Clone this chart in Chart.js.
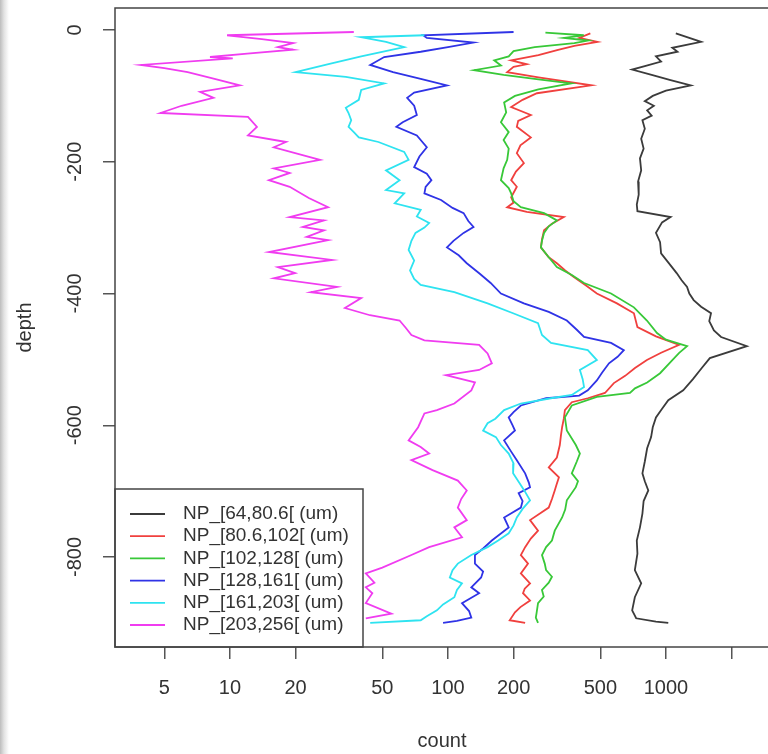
<!DOCTYPE html>
<html>
<head>
<meta charset="utf-8">
<script src="https://cdn.jsdelivr.net/npm/chart.js@4.4.1/dist/chart.umd.min.js"></script>
<style>
html, body { margin: 0; padding: 0; overflow: hidden; }
body { width: 768px; height: 754px; background: linear-gradient(to right, #bdbdbd 0px, #e2e2e2 4px, #ffffff 9px); }
#wrap { position: relative; width: 780px; height: 754px; }
</style>
</head>
<body>
<div id="wrap"><canvas id="grafico" width="780" height="754"></canvas></div>
<script>
// nomes e cores das classes de tamanho
const nomes = ['NP_[64,80.6[ (um)', 'NP_[80.6,102[ (um)', 'NP_[102,128[ (um)', 'NP_[128,161[ (um)', 'NP_[161,203[ (um)', 'NP_[203,256[ (um)'];
const cores = ['#3b3b3b', '#f0403e', '#38c838', '#2f33e6', '#2ee3f0', '#f03cf0'];

// eixos
const xTicks = [5, 10, 20, 50, 100, 200, 500, 1000, 2000];
const xTickLabels = ['5', '10', '20', '50', '100', '200', '500', '1000', ''];
const yTicks = [0, -200, -400, -600, -800];

// NP_[64,80.6[
const depth1 = [-5, -18, -27, -33, -40, -48, -55, -60, -68, -76, -84, -92, -100, -108, -115, -122, -130, -137, -150, -165, -180, -195, -213, -230, -250, -265, -275, -284, -292, -308, -322, -339, -352, -369, -380, -390, -400, -410, -420, -430, -442, -456, -466, -480, -498, -513, -530, -547, -562, -575, -588, -603, -618, -635, -655, -673, -685, -699, -715, -734, -755, -775, -795, -820, -840, -861, -881, -893, -898, -900];
const count1 = [1110, 1450, 1070, 1130, 900, 950, 800, 700, 860, 1050, 1300, 1000, 870, 800, 880, 820, 860, 780, 800, 770, 790, 760, 770, 745, 750, 735, 740, 1050, 960, 900, 940, 950, 1020, 1120, 1180, 1250, 1280, 1340, 1450, 1610, 1580, 1660, 1790, 2350, 1590, 1460, 1330, 1200, 1025, 960, 900, 870, 855, 820, 800, 780, 800, 830, 790, 780, 760, 735, 740, 720, 770, 720, 700, 730, 900, 1025];

// NP_[80.6,102[
const depth2 = [-5, -12, -18, -24, -30, -38, -46, -52, -56, -64, -72, -84, -96, -106, -117, -129, -138, -147, -163, -175, -187, -202, -215, -228, -238, -254, -262, -269, -276, -284, -294, -304, -318, -330, -345, -354, -365, -375, -388, -400, -415, -430, -451, -465, -478, -490, -501, -513, -525, -536, -551, -559, -565, -577, -590, -603, -615, -630, -649, -664, -679, -690, -699, -712, -725, -744, -760, -772, -785, -797, -810, -825, -840, -848, -855, -866, -876, -884, -896, -900];
const count2 = [450, 400, 485, 380, 320, 260, 195, 230, 200, 187, 260, 455, 256, 220, 195, 240, 210, 207, 240, 215, 207, 223, 205, 195, 207, 195, 200, 187, 230, 340, 300, 276, 270, 267, 290, 316, 345, 378, 430, 482, 596, 713, 740, 900, 1150, 950, 818, 721, 650, 577, 525, 438, 370, 344, 340, 334, 330, 326, 316, 290, 323, 315, 309, 300, 290, 238, 259, 240, 226, 216, 233, 216, 238, 225, 221, 238, 215, 203, 192, 226];

// NP_[102,128[
const depth3 = [-4, -8, -12, -16, -20, -26, -32, -40, -46, -54, -61, -68, -75, -81, -90, -100, -110, -125, -140, -155, -167, -180, -197, -210, -228, -240, -248, -260, -269, -278, -289, -298, -308, -320, -330, -345, -360, -372, -384, -400, -421, -441, -460, -470, -480, -490, -501, -521, -535, -544, -551, -557, -570, -588, -608, -620, -630, -643, -655, -673, -685, -694, -714, -728, -740, -760, -775, -785, -797, -810, -820, -830, -839, -850, -860, -870, -885, -892, -900];
const count3 = [280, 420, 340, 440, 380, 250, 200, 190, 163, 175, 132, 180, 260, 367, 260, 203, 181, 185, 175, 190, 180, 190, 187, 180, 175, 190, 195, 200, 216, 276, 316, 290, 276, 270, 267, 290, 316, 370, 421, 560, 713, 818, 910, 1000, 1250, 1150, 1070, 940, 820, 721, 684, 482, 370, 344, 351, 370, 386, 403, 390, 370, 395, 386, 351, 345, 334, 309, 300, 282, 270, 278, 282, 300, 290, 270, 275, 259, 255, 253, 259];

// NP_[128,161[
const depth4 = [-3, -8, -12, -19, -26, -33, -41, -53, -64, -74, -84, -95, -103, -115, -129, -140, -147, -160, -178, -192, -208, -218, -228, -238, -248, -258, -270, -278, -290, -299, -308, -320, -330, -342, -354, -370, -384, -400, -415, -428, -441, -455, -466, -475, -486, -496, -506, -520, -532, -547, -555, -559, -570, -580, -588, -600, -608, -623, -640, -653, -673, -687, -694, -703, -715, -725, -740, -755, -775, -787, -797, -810, -822, -831, -846, -855, -870, -882, -892, -897, -900];
const count4 = [200, 77, 80, 131, 100, 75, 51, 44, 56, 75, 99, 70, 65, 70, 72, 62, 58, 72, 80, 74, 70, 80, 84, 79, 78, 93, 105, 118, 124, 131, 118, 106, 99, 112, 122, 140, 157, 175, 223, 290, 351, 390, 421, 560, 641, 600, 548, 510, 482, 438, 400, 282, 216, 200, 190, 198, 203, 181, 195, 207, 226, 235, 238, 211, 220, 216, 181, 190, 159, 145, 133, 133, 145, 142, 128, 139, 116, 125, 128, 110, 95];

// NP_[161,203[
const depth5 = [-8, -11, -18, -26, -40, -52, -64, -71, -81, -91, -106, -118, -126, -137, -147, -155, -163, -170, -185, -197, -213, -228, -243, -248, -263, -273, -283, -293, -300, -308, -320, -334, -350, -365, -378, -387, -398, -415, -430, -445, -463, -475, -486, -501, -516, -530, -542, -554, -559, -567, -577, -590, -597, -608, -618, -630, -643, -658, -673, -690, -700, -714, -727, -740, -752, -764, -775, -785, -797, -810, -820, -831, -840, -850, -861, -872, -881, -890, -896, -900];
const count5 = [78, 40, 52, 63, 40, 28, 20, 34, 51, 40, 39, 34, 35, 36, 35, 37, 39, 48, 63, 66, 52, 60, 52, 63, 57, 75, 72, 82, 78, 71, 68, 66, 70, 67, 70, 75, 107, 152, 199, 259, 270, 297, 438, 482, 403, 415, 421, 370, 297, 216, 181, 165, 152, 145, 166, 175, 190, 200, 199, 215, 225, 238, 220, 207, 200, 190, 170, 152, 128, 111, 105, 102, 116, 110, 107, 95, 89, 80, 75, 44];

// NP_[203,256[
const depth6 = [-3, -8, -14, -20, -26, -30, -36, -41, -43, -53, -58, -64, -74, -84, -94, -103, -115, -126, -132, -147, -160, -170, -178, -197, -210, -217, -228, -238, -255, -269, -284, -289, -299, -304, -314, -319, -337, -349, -360, -369, -377, -390, -398, -407, -422, -433, -441, -452, -463, -471, -478, -491, -506, -516, -524, -535, -547, -567, -577, -582, -603, -623, -633, -643, -653, -668, -684, -699, -712, -725, -744, -755, -770, -785, -797, -816, -825, -839, -846, -855, -870, -886, -893];
const count6 = [37, 9.7, 14, 19.5, 16.6, 19.5, 12, 8.1, 10.3, 3.9, 5, 6.4, 8.5, 11.1, 7.3, 8.4, 6, 4.8, 12.1, 13.3, 12.1, 18.1, 15.9, 25.9, 15.9, 18.8, 15.1, 18.8, 23, 28.2, 18.8, 27, 21.6, 27, 22.5, 28.2, 15.1, 29.4, 16.6, 19.9, 15.9, 31, 23.5, 40, 33.7, 43.9, 60, 64, 68, 78, 139, 152, 159, 139, 98, 133, 128, 107, 89, 78, 73, 66, 75, 82, 68, 85, 111, 122, 115, 111, 122, 107, 116, 82, 68, 50, 42, 46, 42, 45, 42, 55, 42];

const depths = [depth1, depth2, depth3, depth4, depth5, depth6];
const counts = [count1, count2, count3, count4, count5, count6];

Chart.defaults.font.family = '"Liberation Sans", Arial, sans-serif';
Chart.defaults.color = '#333';

function serie(i) {
    return {
        label: nomes[i],
        data: depths[i].map((d, k) => ({ x: counts[i][k], y: d })),
        showLine: true,
        borderColor: cores[i],
        backgroundColor: cores[i],
        borderWidth: 1.8,
        pointRadius: 0,
        tension: 0,
        order: 5 - i
    };
}

// caixa do grafico e legenda no canto inferior esquerdo
const caixa = {
    id: 'caixa',
    afterDraw(chart) {
        const ctx = chart.ctx;
        const a = chart.chartArea;
        ctx.save();
        const lw = 248, lh = 158;
        const lx = a.left, ly = a.bottom - lh;
        ctx.fillStyle = '#ffffff';
        ctx.fillRect(lx, ly, lw, lh);
        ctx.strokeStyle = '#444';
        ctx.lineWidth = 1.5;
        ctx.strokeRect(lx, ly, lw, lh);
        ctx.font = '19px "Liberation Sans", Arial, sans-serif';
        ctx.textBaseline = 'middle';
        ctx.textAlign = 'left';
        for (let i = 0; i < nomes.length; i++) {
            const yy = ly + 25 + i * 22.2;
            ctx.strokeStyle = cores[i];
            ctx.lineWidth = 1.8;
            ctx.beginPath();
            ctx.moveTo(lx + 15, yy);
            ctx.lineTo(lx + 50, yy);
            ctx.stroke();
            ctx.fillStyle = '#333';
            ctx.fillText(nomes[i], lx + 68, yy);
        }
        ctx.strokeStyle = '#444';
        ctx.lineWidth = 1.5;
        ctx.strokeRect(a.left, a.top, a.right - a.left, a.bottom - a.top);
        ctx.restore();
    }
};

const config = {
    type: 'scatter',
    data: { datasets: [0, 1, 2, 3, 4, 5].map(serie) },
    options: {
        responsive: false,
        animation: false,
        devicePixelRatio: 1,
        layout: { padding: { left: 0, top: 8, right: 11, bottom: 0 } },
        plugins: { legend: { display: false }, tooltip: { enabled: false } },
        scales: {
            x: {
                type: 'logarithmic',
                position: 'bottom',
                min: 2.97,
                max: 2970,
                afterBuildTicks: s => { s.ticks = xTicks.map(v => ({ value: v })); },
                afterFit: s => { s.height = 107; s.paddingLeft = 0; s.paddingRight = 0; },
                border: { display: false },
                grid: { display: true, drawOnChartArea: false, drawTicks: true, tickLength: 12, color: '#555', lineWidth: 1.5 },
                ticks: {
                    font: { size: 20 },
                    color: '#333',
                    padding: 17,
                    maxRotation: 0,
                    autoSkip: false,
                    callback: (v, i) => xTickLabels[i]
                },
                title: { display: true, text: 'count', font: { size: 20 }, color: '#333', padding: { top: 0, bottom: 1 } }
            },
            y: {
                type: 'linear',
                position: 'left',
                min: -936.6,
                max: 33.4,
                afterBuildTicks: s => { s.ticks = yTicks.map(v => ({ value: v })); },
                afterFit: s => { s.width = 115; s.paddingTop = 0; s.paddingBottom = 0; },
                border: { display: false },
                grid: { display: true, drawOnChartArea: false, drawTicks: true, tickLength: 12, color: '#555', lineWidth: 1.5 },
                ticks: {
                    font: { size: 20 },
                    color: '#333',
                    padding: 8,
                    minRotation: 90,
                    maxRotation: 90,
                    crossAlign: 'center',
                    callback: v => String(v)
                },
                title: { display: true, text: 'depth', font: { size: 20 }, color: '#333', padding: { top: 13, bottom: 0 } }
            }
        }
    },
    plugins: [caixa]
};

const grafico = new Chart(document.getElementById('grafico'), config);
</script>
</body>
</html>
